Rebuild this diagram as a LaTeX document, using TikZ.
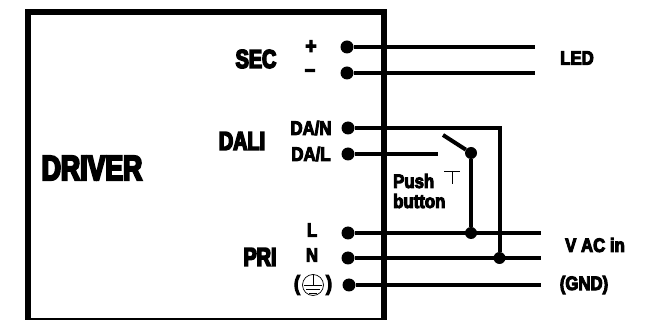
\documentclass[tikz,border=0pt]{standalone}
\usepackage{fontspec}
\setmainfont[FakeStretch=0.86,FakeBold=5]{Liberation Sans Bold}
\newfontfamily\condfont[FakeStretch=0.76,FakeBold=6]{Liberation Sans Bold}
\begin{document}
\begin{tikzpicture}[x=1pt,y=-1pt,
  dot/.style={circle,fill=black,inner sep=0pt,minimum size=13pt},
  jdot/.style={circle,fill=black,inner sep=0pt,minimum size=12pt},
  wire/.style={draw=black,line width=4pt},
  lab/.style={inner sep=0pt,font=\fontsize{19.5}{20}\selectfont},
  biglab/.style={inner sep=0pt,font=\condfont\fontsize{26}{26}\selectfont},
  thin line/.style={draw=black,line width=0.8pt}]
\useasboundingbox (0,0) rectangle (648,320);
\fill[white] (0,0) rectangle (648,320);
\node[draw=black,line width=6pt,minimum width=356pt,minimum height=309pt,inner sep=0pt,anchor=north west] (driver) at (25,9) {};
\node[inner sep=0pt,font=\condfont\fontsize{35}{35}\selectfont] (drv) at (92,168) {DRIVER};
\node[biglab] (sec) at (256,59) {SEC};
\node[biglab] (dali) at (242,141) {DALI};
\node[biglab] (pri) at (260,257) {PRI};
\node[lab,font=\fontsize{22}{22}\selectfont] (plus) at (311,47) {+};
\node[lab,font=\fontsize{22}{22}\selectfont] (minus) at (310,73) {–};
\node[lab] (dan) at (311,128) {DA/N};
\node[lab] (dal) at (311,154) {DA/L};
\node[lab] (ll) at (312,230) {L};
\node[lab] (nl) at (312,255) {N};
\node[lab,font=\fontsize{21}{21}\selectfont] (lp) at (297,285) {(};
\node[lab,font=\fontsize{21}{21}\selectfont] (rp) at (329,285) {)};
\node[draw=black,line width=0.7pt,circle,minimum size=21pt,inner sep=0pt] (earth) at (313,285) {};
\coordinate (e1) at (313,285);
\draw[thin line,line width=0.7pt] (earth.north) -- (e1);
\draw[thin line,line width=0.7pt] (304,285) -- (322,285);
\draw[thin line,line width=0.7pt] (306,289) -- (320,289);
\draw[thin line,line width=0.7pt] (309,293) -- (317,293);
\node[lab,anchor=west] (push) at (393,181) {Push};
\node[lab,anchor=west] (btn) at (393,201) {button};
\coordinate (ta) at (444,171); \coordinate (tb) at (460,171);
\coordinate (tc) at (452,171); \coordinate (td) at (452,184);
\draw[thin line] (ta) -- (tb) (tc) -- (td);
\node[lab] (led) at (577,58) {LED};
\node[lab] (vac) at (595,245) {V AC in};
\node[lab] (gnd) at (584,285) {(GND)};
\node[dot] (p) at (347,47) {};
\node[dot] (m) at (347,73) {};
\node[dot] (an) at (348,128) {};
\node[dot] (al) at (348,154) {};
\node[dot] (l) at (348,233) {};
\node[dot] (n) at (348,258) {};
\node[dot] (g) at (349,285) {};
\coordinate (pe) at (535,47); \coordinate (me) at (535,73);
\coordinate (le) at (541,233); \coordinate (ne) at (541,258); \coordinate (ge) at (541,285);
\coordinate (alend) at (438,154); \coordinate (lever) at (443,135);
\coordinate (corner) at (499.5,128);
\node[jdot] (sw) at (471,153) {};
\node[jdot] (jl) at (471,233) {};
\node[jdot] (jn) at (499.5,258) {};
\draw[wire] (p) -- (pe);
\draw[wire] (m) -- (me);
\draw[wire] (l) -- (le);
\draw[wire] (n) -- (ne);
\draw[wire] (g) -- (ge);
\draw[wire] (al) -- (alend);
\draw[wire,line join=miter] (an) -- (corner) -- (jn);
\draw[wire] (sw) -- (jl);
\draw[wire] (lever) -- (sw);
\end{tikzpicture}
\end{document}
